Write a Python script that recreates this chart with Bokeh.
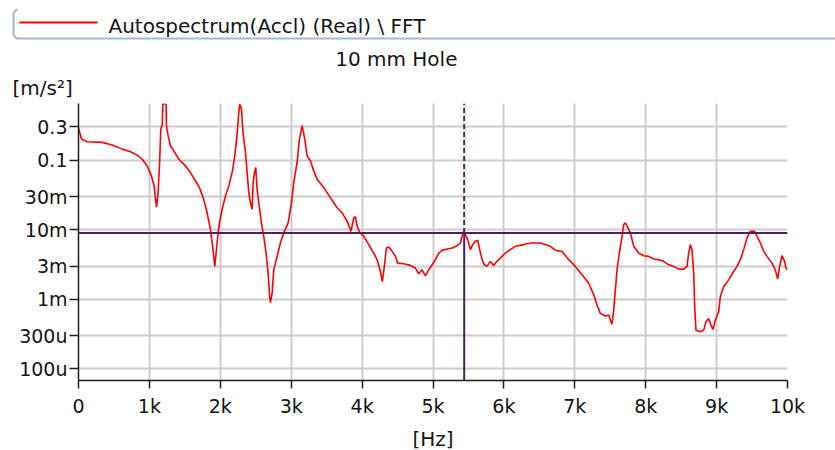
from bokeh.plotting import figure
from bokeh.layouts import column
from bokeh.models import Range1d, FixedTicker, Span
from bokeh.core.properties import value
from bokeh.embed import file_html
from bokeh.resources import INLINE

# ---------------- data ----------------
freq_hz = [
    0, 42, 122, 334, 475, 616, 733, 827, 898, 968,
    1029, 1067, 1086, 1100, 1123, 1142, 1161, 1180, 1189, 1236,
    1240, 1264, 1297, 1344, 1415, 1509, 1579, 1650, 1706, 1767,
    1814, 1861, 1885, 1908, 1922, 1941, 1969, 1988, 2026, 2073,
    2120, 2167, 2204, 2237, 2261, 2275, 2298, 2322, 2355, 2378,
    2402, 2425, 2449, 2463, 2482, 2500, 2519, 2543, 2580, 2613,
    2646, 2674, 2693, 2707, 2731, 2754, 2801, 2848, 2895, 2957,
    3004, 3036, 3083, 3116, 3154, 3192, 3224, 3271, 3318, 3365,
    3459, 3553, 3647, 3718, 3788, 3844, 3882, 3906, 3929, 3967,
    4023, 4094, 4164, 4211, 4258, 4286, 4314, 4343, 4376, 4423,
    4470, 4503, 4587, 4681, 4752, 4799, 4846, 4893, 4940, 4987,
    5034, 5081, 5128, 5198, 5269, 5339, 5386, 5410, 5433, 5457,
    5490, 5527, 5560, 5598, 5631, 5659, 5692, 5725, 5762, 5809,
    5856, 5903, 5974, 6021, 6091, 6162, 6279, 6373, 6514, 6656,
    6726, 6820, 6914, 7008, 7102, 7196, 7267, 7314, 7361, 7431,
    7478, 7502, 7525, 7549, 7572, 7596, 7628, 7666, 7690, 7713,
    7751, 7784, 7831, 7901, 7972, 8042, 8113, 8183, 8254, 8324,
    8395, 8465, 8536, 8583, 8606, 8630, 8653, 8677, 8691, 8709,
    8771, 8818, 8850, 8888, 8921, 8949, 8982, 9029, 9053, 9100,
    9170, 9241, 9288, 9335, 9382, 9429, 9476, 9537, 9570, 9617,
    9664, 9711, 9781, 9828, 9861, 9889, 9922, 9960, 9978, 10000,
]
accel = [
    0.29, 0.201, 0.184, 0.180, 0.165, 0.144, 0.132, 0.118, 0.103, 0.0828,
    0.0593, 0.0426, 0.0273, 0.0211, 0.0341, 0.0828, 0.281, 0.313, 0.64, 0.64,
    0.313, 0.225, 0.161, 0.136, 0.103, 0.0828, 0.0663, 0.0502, 0.0403, 0.0273,
    0.0175, 0.0100, 0.00645, 0.00414, 0.00297, 0.00462, 0.0090, 0.01256, 0.0196, 0.0305,
    0.0426, 0.0663, 0.1156, 0.2377, 0.489, 0.64, 0.546, 0.238, 0.129, 0.0663,
    0.0341, 0.0244, 0.0196, 0.0475, 0.0663, 0.0783, 0.0381, 0.0244, 0.01256, 0.00805,
    0.00462, 0.00238, 0.00122, 0.000895, 0.00122, 0.00265, 0.00414, 0.00645, 0.0090, 0.01256,
    0.0244, 0.0475, 0.0925, 0.201, 0.313, 0.201, 0.1156, 0.098, 0.0701, 0.0531,
    0.0403, 0.0289, 0.0207, 0.0175, 0.01327, 0.00951, 0.01483, 0.01534, 0.01124, 0.0092,
    0.00805, 0.00611, 0.00462, 0.00371, 0.00251, 0.0018, 0.00297, 0.00546, 0.00565, 0.00489,
    0.00414, 0.00331, 0.00324, 0.00307, 0.00281, 0.00232, 0.00265, 0.00217, 0.00265, 0.00313,
    0.00371, 0.00462, 0.00505, 0.00528, 0.00546, 0.0059, 0.00645, 0.00805, 0.00951, 0.00851,
    0.00721, 0.00517, 0.00611, 0.00682, 0.00705, 0.00517, 0.00371, 0.00313, 0.00297, 0.00351,
    0.00307, 0.00351, 0.00414, 0.00462, 0.00517, 0.00577, 0.00611, 0.00645, 0.00645, 0.00577,
    0.00505, 0.00489, 0.00371, 0.00297, 0.00225, 0.0017, 0.001156, 0.000828, 0.000628, 0.000574,
    0.000593, 0.000502, 0.00044, 0.000701, 0.001365, 0.00265, 0.00462, 0.00805, 0.01188, 0.01256,
    0.01063, 0.0090, 0.00577, 0.00462, 0.00423, 0.00414, 0.00379, 0.00371, 0.00351, 0.00313,
    0.00297, 0.00271, 0.00271, 0.00297, 0.00462, 0.00611, 0.00517, 0.00238, 0.000783, 0.00036,
    0.000341, 0.00036, 0.000475, 0.000531, 0.000426, 0.000368, 0.000502, 0.000664, 0.001094, 0.001524,
    0.0019, 0.00251, 0.00297, 0.00371, 0.00517, 0.00762, 0.00951, 0.00951, 0.00805, 0.00645,
    0.00489, 0.00414, 0.00331, 0.00265, 0.00195, 0.00297, 0.00423, 0.00351, 0.00281, 0.00265,
]
assert len(freq_hz) == len(accel)

x_tick_values = [0, 1000, 2000, 3000, 4000, 5000, 6000, 7000, 8000, 9000, 10000]
x_tick_labels = ["0", "1k", "2k", "3k", "4k", "5k", "6k", "7k", "8k", "9k", "10k"]
y_tick_values = [1e-4, 3e-4, 1e-3, 3e-3, 1e-2, 3e-2, 0.1, 0.3]
y_tick_labels = ["100u", "300u", "1m", "3m", "10m", "30m", "0.1", "0.3"]

cursor_freq = 5440
cursor_level = 0.0090

legend_text = "Autospectrum(Accl) (Real) \\ FFT"
title_text = "10 mm  Hole"
y_unit = "[m/s\u00b2]"
x_unit = "[Hz]"

FONT = "DejaVu Sans"
RED = "#ff0000"
PURPLE = "#4e1f5e"

# ---------------- header (legend, title, unit) ----------------
W = 835
HH = 100
hdr = figure(width=W, height=HH, x_range=Range1d(0, W), y_range=Range1d(HH, 0),
             output_backend="svg", toolbar_location=None,
             min_border=0, outline_line_color=None)
hdr.frame_align = False
hdr.axis.visible = False
hdr.grid.visible = False
hdr.background_fill_color = "white"
hdr.border_fill_color = "white"

hdr.line([17, 15, 13.6, 13, 13, 13.6, 15, 17, W], [9, 9.8, 11.5, 14, 33, 35.5, 37.2, 38, 38],
         line_color="#a3b8d6", line_width=2)
hdr.line([19, 97], [22, 22], line_color=RED, line_width=2)
hdr.text(x=[108], y=[25.5], text=[legend_text], text_font=value(FONT),
         text_font_size="20px", text_baseline="middle", text_align="left",
         text_color="#141414")
hdr.text(x=[399], y=[58.5], text=[title_text], text_font=value(FONT),
         text_font_size="20px", text_baseline="middle", text_align="center",
         text_color="#141414")
hdr.text(x=[12], y=[87], text=[y_unit], text_font=value(FONT),
         text_font_size="20px", text_baseline="middle", text_align="left",
         text_color="#141414")

# ---------------- main plot ----------------
p = figure(frame_width=709, frame_height=277,
           x_range=Range1d(0, 10000), y_range=Range1d(6.8e-5, 0.652),
           y_axis_type="log", output_backend="svg", toolbar_location=None,
           min_border_left=78, min_border_right=48, min_border_top=3,
           min_border_bottom=70, outline_line_color=None)
p.frame_align = False
p.background_fill_color = "white"
p.border_fill_color = "white"

xt = FixedTicker(ticks=x_tick_values)
yt = FixedTicker(ticks=y_tick_values)
p.xaxis.ticker = xt
p.yaxis.ticker = yt
p.xgrid.ticker = xt
p.ygrid.ticker = yt
p.xaxis.major_label_overrides = dict(zip(x_tick_values, x_tick_labels))
p.yaxis.major_label_overrides = dict(zip(y_tick_values, y_tick_labels))

for ax in (p.xaxis, p.yaxis):
    ax.axis_line_color = "#1e1e1e"
    ax.axis_line_width = 1.5
    ax.major_tick_line_color = "#1e1e1e"
    ax.major_tick_line_width = 1.5
    ax.major_tick_in = 0
    ax.minor_tick_line_color = None
    ax.major_label_text_font = FONT
    ax.major_label_text_font_size = "19px"
    ax.major_label_text_color = "#141414"

p.xaxis.major_tick_out = 8
p.xaxis.major_label_standoff = 6
p.yaxis.major_tick_out = 9
p.yaxis.major_label_standoff = 2

p.xaxis.axis_label = x_unit
p.xaxis.axis_label_text_font = FONT
p.xaxis.axis_label_text_font_size = "20px"
p.xaxis.axis_label_text_font_style = "normal"
p.xaxis.axis_label_text_color = "#141414"
p.xaxis.axis_label_standoff = 7

p.grid.grid_line_color = "#cccccc"
p.grid.grid_line_width = 2

p.line(freq_hz, accel, line_color=RED, line_width=1.6)

p.add_layout(Span(location=cursor_level, dimension="width",
                  line_color=PURPLE, line_width=2))
p.segment(x0=[cursor_freq], y0=[p.y_range.start], x1=[cursor_freq], y1=[cursor_level],
          line_color=PURPLE, line_width=2)
p.segment(x0=[cursor_freq], y0=[cursor_level], x1=[cursor_freq], y1=[p.y_range.end],
          line_color=PURPLE, line_width=2, line_dash="5 3")

layout = column(hdr, p, spacing=0)
open("out.html", "w").write(file_html(layout, INLINE))
